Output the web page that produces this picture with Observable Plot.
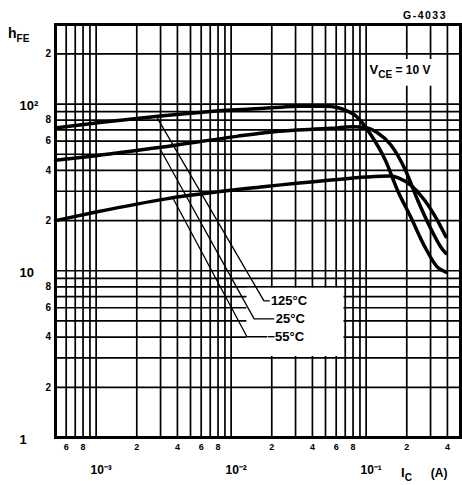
<!DOCTYPE html>
<html><head><meta charset="utf-8">
<script src="https://cdn.jsdelivr.net/npm/d3@7"></script>
<script src="https://cdn.jsdelivr.net/npm/@observablehq/plot@0.6"></script>
<style>
html,body{margin:0;padding:0;background:#fff;}
#chart svg{display:block;}
</style>
</head><body><div id="chart"></div>
<script>
// hFE vs IC (A), VCE = 10 V
const curve125 = [[5e-4,72],[1e-3,77],[2e-3,82],[5e-3,88],[1e-2,92],[2e-2,95],[3.2e-2,97],[5e-2,97],[6.2e-2,95],[7.2e-2,91],[8.2e-2,86],[9.5e-2,76],[0.109,65],[0.138,46.5],[0.172,30],[0.214,21],[0.271,14],[0.338,10.5],[0.39,9.8]];
const curve25 = [[5e-4,46],[1e-3,49],[3e-3,55],[1.1e-2,64],[2e-2,68],[5.5e-2,71.5],[8e-2,73],[0.1,72],[0.122,67],[0.152,57],[0.193,41],[0.241,26.5],[0.30,18],[0.355,14],[0.39,12.7]];
const curveM55 = [[5e-4,20],[1e-3,22.5],[3.3e-3,27],[1.8e-2,32],[5.5e-2,35],[0.1,36.5],[0.15,37],[0.175,36],[0.214,32.6],[0.271,26.5],[0.338,20],[0.39,16]];

// leader lines (IC, hFE) from curve to label
const leader125 = [[2.85e-3,82],[0.0175,6.6],[0.0192,6.6]];
const leader25 = [[2.95e-3,54.5],[0.0148,5.15],[0.0207,5.15]];
const leaderM55 = [[3.7e-3,27.3],[0.0131,4.02],[0.0184,4.02]];
const curveLabels = ["125°C","25°C","−55°C"];
const curveLabelX = [0.0197,0.0214,0.0186];
const curveLabelY = [6.6,5.15,4.02];

// grid
const xGrid = [5e-4,6e-4,7e-4,8e-4,9e-4,1e-3,2e-3,3e-3,4e-3,5e-3,6e-3,7e-3,8e-3,9e-3,1e-2,2e-2,3e-2,4e-2,5e-2,6e-2,7e-2,8e-2,9e-2,0.1,0.2,0.3,0.4,0.5];
const yGrid = [1,2,3,4,5,6,7,8,9,10,20,30,40,50,60,70,80,90,100,200,300];

// tick labels
const xMinorTicks = [6e-4,8e-4,2e-3,4e-3,6e-3,8e-3,2e-2,4e-2,6e-2,8e-2,0.2,0.4];
const xMinorLabels = ["6","8","2","4","6","8","2","4","6","8","2","4"];
const xDecades = [1e-3,1e-2,1e-1];
const xDecadeLabels = ["10⁻³","10⁻²","10⁻¹"];
const yMinorTicks = [2,4,6,8,20,40,60,80,200];
const yMinorLabels = ["2","4","6","8","2","4","6","8","2"];
const yDecades = [1,10,100];
const yDecadeLabels = ["1","10","10²"];

// white backgrounds behind annotations
const boxes = [
  {x1:0.0131, x2:0.0685, y1:3.06, y2:7.85},
  {x1:0.105, x2:0.37, y1:128, y2:185}
];

const font = "'Liberation Sans', Arial, sans-serif";
const P = d => d[0], Q = d => d[1];

const plot = Plot.plot({
  width: 462, height: 485,
  marginLeft: 55, marginRight: 2, marginTop: 24, marginBottom: 48,
  style: {fontFamily: font, fontWeight: "bold", background: "#fff", color: "#000"},
  x: {type: "log", domain: [5e-4, 0.5], axis: null},
  y: {type: "log", domain: [1, 300], axis: null},
  marks: [
    Plot.ruleX(xGrid, {x: d => d, stroke: "#000", strokeWidth: 1.7}),
    Plot.ruleY(yGrid, {y: d => d, stroke: "#000", strokeWidth: 1.7}),
    Plot.rect(boxes, {x1: "x1", x2: "x2", y1: "y1", y2: "y2", fill: "#fff"}),
    Plot.frame({stroke: "#000", strokeWidth: 3}),
    Plot.line(curve125, {x: P, y: Q, stroke: "#000", strokeWidth: 3.5, curve: "monotone-x"}),
    Plot.line(curve25, {x: P, y: Q, stroke: "#000", strokeWidth: 3.5, curve: "monotone-x"}),
    Plot.line(curveM55, {x: P, y: Q, stroke: "#000", strokeWidth: 3.5, curve: "monotone-x"}),
    Plot.line(leader125, {x: P, y: Q, stroke: "#000", strokeWidth: 1.3}),
    Plot.line(leader25, {x: P, y: Q, stroke: "#000", strokeWidth: 1.3}),
    Plot.line(leaderM55, {x: P, y: Q, stroke: "#000", strokeWidth: 1.3}),
    Plot.text(curveLabels, {x: (d,i) => curveLabelX[i], y: (d,i) => curveLabelY[i], text: d => d, textAnchor: "start", fontSize: 13, fontWeight: "bold", fill: "#000"}),
    Plot.text(xMinorTicks, {x: d => d, text: (d,i) => xMinorLabels[i], frameAnchor: "bottom", dy: 12, fontSize: 9, fontWeight: "bold", fill: "#000"}),
    Plot.text(xDecades, {x: d => d, text: (d,i) => xDecadeLabels[i], frameAnchor: "bottom", dy: 36, dx: 5, fontSize: 12, fontWeight: "bold", fill: "#000"}),
    Plot.text(yMinorTicks, {y: d => d, text: (d,i) => yMinorLabels[i], frameAnchor: "left", dx: -10, fontSize: 10, fontWeight: "bold", fill: "#000"}),
    Plot.text(yDecades, {y: d => d, text: (d,i) => yDecadeLabels[i], frameAnchor: "left", dx: -36, dy: 2, textAnchor: "start", fontSize: 13, fontWeight: "bold", fill: "#000"})
  ]
});

document.getElementById("chart").appendChild(plot);

// subscripted labels
const svg = d3.select(plot);
const sx = plot.scale("x"), sy = plot.scale("y");

const hfe = svg.append("text").attr("x", 8).attr("y", 38).attr("text-anchor", "start")
  .attr("font-family", font).attr("font-weight", "bold").attr("fill", "#000");
hfe.append("tspan").attr("font-size", 14).text("h");
hfe.append("tspan").attr("font-size", 10).attr("dy", 4).text("FE");

const vce = svg.append("text").attr("x", sx.apply(0.107)).attr("y", sy.apply(150)).attr("text-anchor", "start")
  .attr("font-family", font).attr("font-weight", "bold").attr("fill", "#000");
vce.append("tspan").attr("font-size", 13).text("V");
vce.append("tspan").attr("font-size", 10).attr("dy", 4).text("CE");
vce.append("tspan").attr("font-size", 12).attr("dy", -4).text(" = 10 V");

const ic = svg.append("text").attr("x", 401).attr("y", 477).attr("text-anchor", "start")
  .attr("font-family", font).attr("font-weight", "bold").attr("fill", "#000");
ic.append("tspan").attr("font-size", 13).text("I");
ic.append("tspan").attr("font-size", 10).attr("dy", 4).text("C");
ic.append("tspan").attr("font-size", 12).attr("dy", -4).attr("dx", 19).text("(A)");

svg.append("text").attr("x", 447).attr("y", 19).attr("text-anchor", "end")
  .attr("font-family", font).attr("font-weight", "bold").attr("font-size", 10.5)
  .attr("letter-spacing", 1.5).attr("fill", "#000").text("G-4033");
</script>
</body></html>
